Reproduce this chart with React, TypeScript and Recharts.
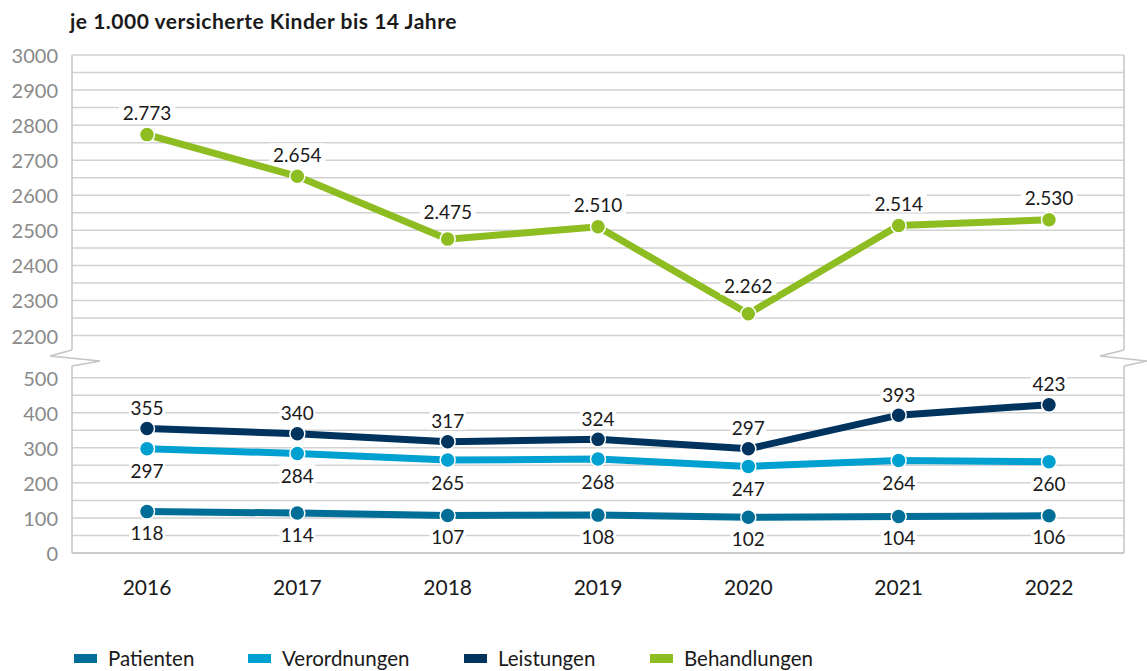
import React from "react";
import {
  LineChart,
  Line,
  XAxis,
  YAxis,
  CartesianGrid,
  ReferenceArea,
  LabelList,
} from "recharts";

const years = ["2016", "2017", "2018", "2019", "2020", "2021", "2022"];
const patienten = [118, 114, 107, 108, 102, 104, 106];
const verordnungen = [297, 284, 265, 268, 247, 264, 260];
const leistungen = [355, 340, 317, 324, 297, 393, 423];
const behandlungen = [2773, 2654, 2475, 2510, 2262, 2514, 2530];

const lowerTicks = [0, 100, 200, 300, 400, 500];
const upperTicks = [2200, 2300, 2400, 2500, 2600, 2700, 2800, 2900, 3000];

// broken axis: values up to 500 kept, values from 2200 shifted down by 1580
const SHIFT = 1580;
const toAxis = (v: number) => (v > 1000 ? v - SHIFT : v);
const fromAxis = (v: number) => (v > 550 ? v + SHIFT : v);

const COLORS = {
  patienten: "#006e96",
  verordnungen: "#00a0d1",
  leistungen: "#00335e",
  behandlungen: "#8dbd20",
};

const FONT = "Lato, 'Open Sans', sans-serif";
const PAD = 75;

const data = years.map((y, i) => ({
  year: y,
  p: toAxis(patienten[i]),
  v: toAxis(verordnungen[i]),
  l: toAxis(leistungen[i]),
  b: toAxis(behandlungen[i]),
  pL: patienten[i],
  vL: verordnungen[i],
  lL: leistungen[i],
  bL: behandlungen[i],
}));

const yTicks = [...lowerTicks, ...upperTicks].map(toAxis);
const gridValues: number[] = [];
for (let v = 0; v <= 500; v += 50) gridValues.push(v);
for (let v = 2200; v <= 3000; v += 50) gridValues.push(toAxis(v));

const fmt = (n: number) =>
  String(n).replace(/\B(?=(\d{3})+(?!\d))/g, ".");

const makeLabel = (dy: number, series?: number[]) => (props: any) => {
  const { x, y, value, index } = props;
  const text = fmt(Number(value));
  const w = text.length * 10 + 6;
  let off = dy;
  if (series && index > 0 && index < series.length - 1) {
    const v = series[index];
    if (v < series[index - 1] && v < series[index + 1]) off = dy - 6;
  }
  const cy = y + off;
  return (
    <g>
      <rect x={x - w / 2} y={cy - 11} width={w} height={20} fill="#ffffff" />
      <text
        x={x}
        y={cy}
        textAnchor="middle"
        dominantBaseline="central"
        fontFamily={FONT}
        fontSize={19}
        fill="#1a1a1a"
      >
        {text}
      </text>
    </g>
  );
};

const FrameShape = (props: any) => {
  const { x, y, width, height } = props;
  const pxPer = height / 1420;
  const yOf = (v: number) => y + height - v * pxPer;
  const top = yOf(1420);
  const bottom = yOf(0);
  const bTop = yOf(579);
  const bBot = yOf(533);
  const mid1 = bTop + 6;
  const mid2 = bTop + 11;
  const L = x - PAD;
  const R = x + width + PAD;
  const c = "#c4c4c4";
  return (
    <g>
      <rect x={0} y={bTop} width={1147} height={bBot - bTop} fill="#ffffff" />
      <line x1={L} y1={top} x2={L} y2={bTop} stroke={c} strokeWidth={1.5} />
      <polyline
        points={`${L},${bTop} ${L - 22},${mid1} ${L + 28},${mid2} ${L},${bBot}`}
        fill="none"
        stroke={c}
        strokeWidth={1.5}
      />
      <line x1={L} y1={bBot} x2={L} y2={bottom} stroke={c} strokeWidth={1.5} />
      <line x1={R} y1={top} x2={R} y2={bTop} stroke={c} strokeWidth={1.5} />
      <polyline
        points={`${R},${bTop} ${R - 24},${mid1} ${R + 23},${mid2} ${R},${bBot}`}
        fill="none"
        stroke={c}
        strokeWidth={1.5}
      />
      <line x1={R} y1={bBot} x2={R} y2={bottom} stroke={c} strokeWidth={1.5} />
      <line x1={L} y1={bottom} x2={R} y2={bottom} stroke={c} strokeWidth={1.5} />
    </g>
  );
};

const XTick = (props: any) => {
  const { x, y, payload } = props;
  return (
    <text
      x={x}
      y={y + 34}
      textAnchor="middle"
      fontFamily={FONT}
      fontSize={21}
      fill="#1a1a1a"
    >
      {payload.value}
    </text>
  );
};

const YTick = (props: any) => {
  const { x, y, payload } = props;
  return (
    <text
      x={x - 6}
      y={y}
      textAnchor="end"
      dominantBaseline="central"
      fontFamily={FONT}
      fontSize={20}
      fill="#8a8a8a"
    >
      {fromAxis(payload.value)}
    </text>
  );
};

const legendItems = [
  { name: "Patienten", color: COLORS.patienten, left: 74 },
  { name: "Verordnungen", color: COLORS.verordnungen, left: 248 },
  { name: "Leistungen", color: COLORS.leistungen, left: 464 },
  { name: "Behandlungen", color: COLORS.behandlungen, left: 650 },
];

const dotStyle = (color: string) => ({
  r: 7.5,
  fill: color,
  stroke: "#ffffff",
  strokeWidth: 1.5,
});

export default function App() {
  return (
    <div
      style={{
        position: "absolute",
        left: 0,
        top: 0,
        width: 1147,
        height: 671,
        background: "#ffffff",
        fontFamily: FONT,
      }}
    >
      <div
        style={{
          position: "absolute",
          left: 70,
          top: 8,
          fontSize: 21,
          fontWeight: 700,
          letterSpacing: 0.5,
          color: "#1a1a1a",
          whiteSpace: "nowrap",
        }}
      >
        je 1.000 versicherte Kinder bis 14 Jahre
      </div>
      <div style={{ position: "absolute", left: 0, top: 0 }}>
        <LineChart
          width={1147}
          height={600}
          data={data}
          margin={{ top: 55, right: 23, left: 0, bottom: 7 }}
        >
          <CartesianGrid
            vertical={false}
            horizontal={true}
            horizontalValues={gridValues}
            stroke="#d2d2d2"
            strokeWidth={1.5}
          />
          <XAxis
            dataKey="year"
            axisLine={false}
            tickLine={false}
            height={40}
            padding={{ left: PAD, right: PAD }}
            tick={<XTick />}
            interval={0}
          />
          <YAxis
            type="number"
            domain={[0, 1420]}
            ticks={yTicks}
            width={72}
            axisLine={false}
            tickLine={false}
            tick={<YTick />}
            interval={0}
          />
          <ReferenceArea
            y1={0}
            y2={1420}
            shape={<FrameShape />}
            ifOverflow="extendDomain"
          />
          <Line
            type="linear"
            dataKey="p"
            stroke={COLORS.patienten}
            strokeWidth={7}
            dot={dotStyle(COLORS.patienten)}
            isAnimationActive={false}
          >
            <LabelList dataKey="pL" content={makeLabel(21)} />
          </Line>
          <Line
            type="linear"
            dataKey="v"
            stroke={COLORS.verordnungen}
            strokeWidth={7}
            dot={dotStyle(COLORS.verordnungen)}
            isAnimationActive={false}
          >
            <LabelList dataKey="vL" content={makeLabel(22)} />
          </Line>
          <Line
            type="linear"
            dataKey="l"
            stroke={COLORS.leistungen}
            strokeWidth={7}
            dot={dotStyle(COLORS.leistungen)}
            isAnimationActive={false}
          >
            <LabelList dataKey="lL" content={makeLabel(-21)} />
          </Line>
          <Line
            type="linear"
            dataKey="b"
            stroke={COLORS.behandlungen}
            strokeWidth={7}
            dot={dotStyle(COLORS.behandlungen)}
            isAnimationActive={false}
          >
            <LabelList dataKey="bL" content={makeLabel(-22, behandlungen)} />
          </Line>
        </LineChart>
      </div>
      {legendItems.map((it) => (
        <div
          key={it.name}
          style={{
            position: "absolute",
            left: it.left,
            top: 646,
            height: 24,
            display: "flex",
            alignItems: "center",
            whiteSpace: "nowrap",
          }}
        >
          <div
            style={{ width: 23, height: 9, background: it.color, marginRight: 11 }}
          />
          <span style={{ fontSize: 20.5, color: "#1a1a1a" }}>{it.name}</span>
        </div>
      ))}
    </div>
  );
}
